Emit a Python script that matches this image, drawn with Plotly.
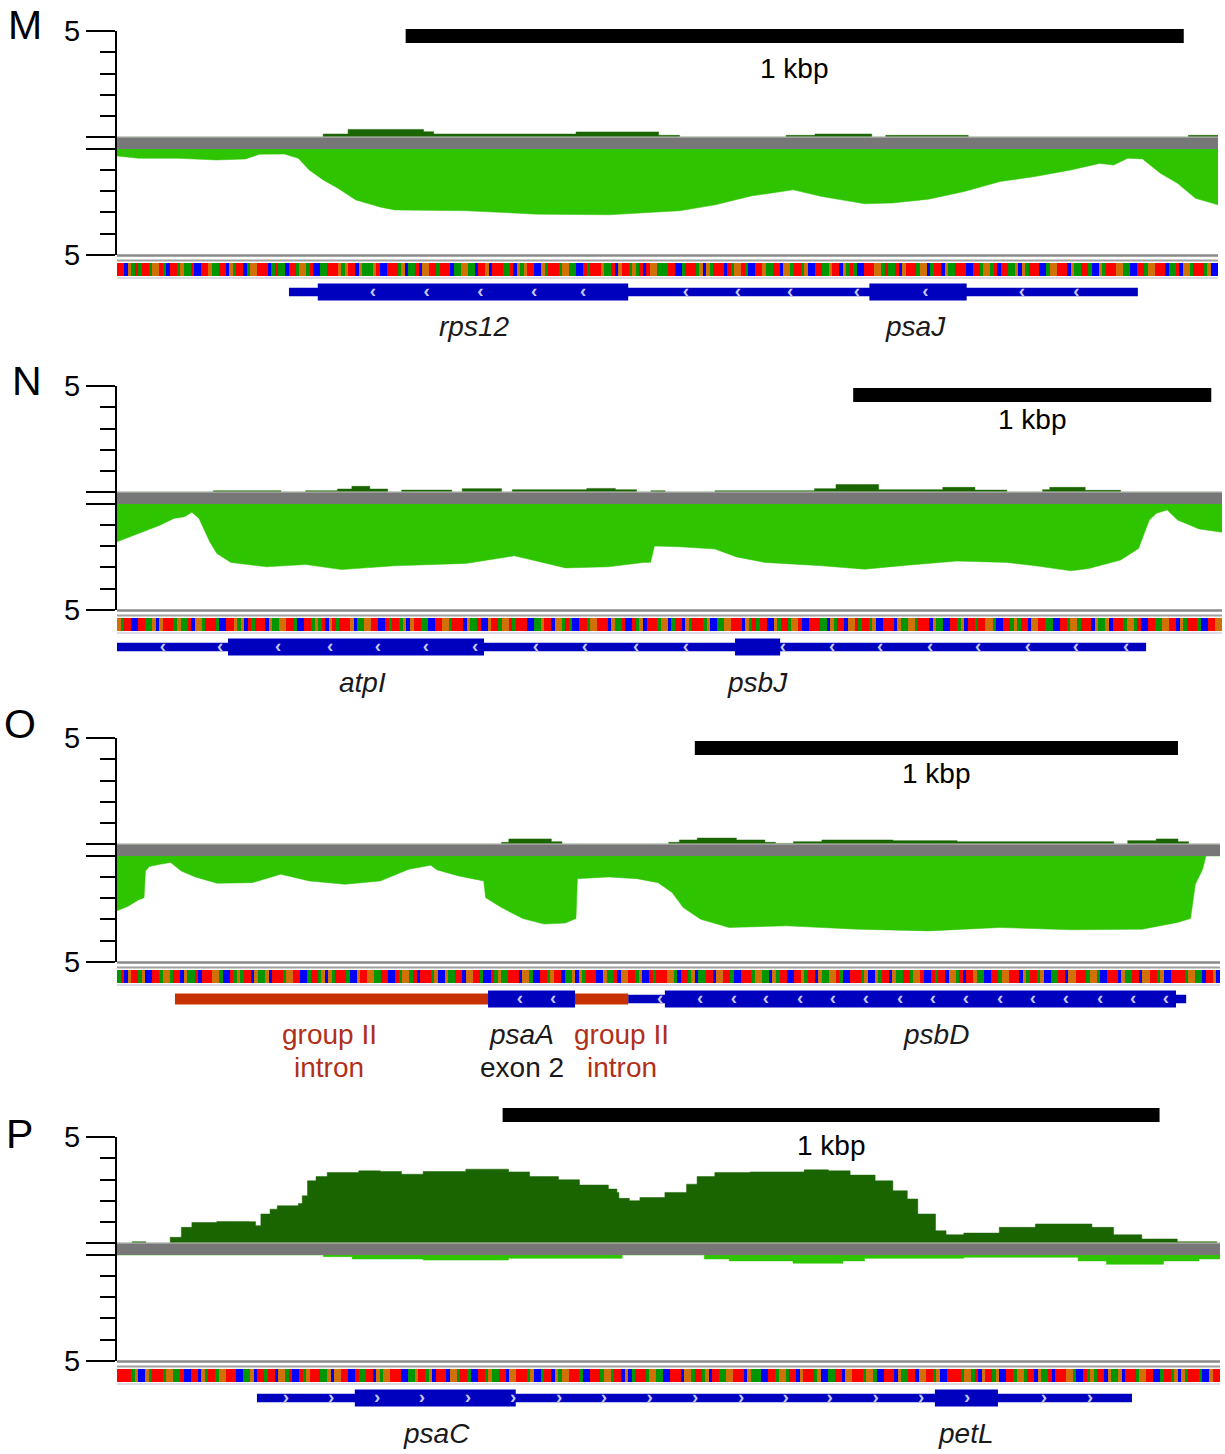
import plotly.graph_objects as go

W, H = 1225, 1454
FONT = "Liberation Sans, Arial, sans-serif"

# ---------------- data ----------------
panel_letters = ["M", "N", "O", "P"]
panel_len_bp = [1415, 3086, 2283, 1679]

# forward-strand coverage (dark green, step profile)
M_fwd_x = [0, 265, 297, 394, 407, 590, 696, 723, 860, 897, 970, 988, 1094, 1377, 1415]
M_fwd_y = [0, 0.14, 0.36, 0.25, 0.14, 0.24, 0.08, 0, 0.08, 0.14, 0, 0.08, 0, 0.08, 0.08]
# reverse-strand coverage (light green)
M_rev_x = [0, 28, 78, 128, 165, 183, 215, 233, 247, 265, 284, 307, 339, 357, 449, 540, 632, 723,
           769, 815, 869, 906, 961, 997, 1043, 1089, 1135, 1180, 1226, 1263, 1281, 1299, 1318, 1341,
           1363, 1386, 1415]
M_rev_y = [0.33, 0.44, 0.44, 0.52, 0.47, 0.25, 0.24, 0.44, 0.99, 1.46, 1.86, 2.41, 2.75, 2.88, 2.92,
           3.08, 3.11, 2.92, 2.64, 2.22, 1.93, 2.25, 2.59, 2.55, 2.37, 2.01, 1.54, 1.30, 0.99, 0.68,
           0.76, 0.44, 0.47, 1.15, 1.62, 2.33, 2.64]

N_fwd_x = [0, 269, 458, 527, 616, 656, 706, 756, 795, 935, 964, 1074, 1104, 1312, 1392, 1451, 1491,
           1531, 1670, 1948, 2008, 2127, 2306, 2396, 2485, 2585, 2605, 2704, 2803, 3086]
N_fwd_y = [0, 0.06, 0, 0.06, 0.14, 0.27, 0.14, 0, 0.09, 0, 0.16, 0, 0.11, 0.17, 0.11, 0, 0.06, 0,
           0.06, 0.16, 0.35, 0.11, 0.22, 0.09, 0, 0.11, 0.22, 0.08, 0, 0]
N_rev_x = [0, 60, 120, 159, 189, 209, 229, 259, 279, 318, 418, 527, 627, 776, 974, 1110, 1173, 1253,
           1372, 1471, 1490, 1501, 1571, 1670, 1730, 1809, 1968, 2088, 2207, 2346, 2485, 2565, 2664,
           2714, 2803, 2853, 2883, 2903, 2933, 2962, 3022, 3086]
N_rev_y = [1.79, 1.39, 1.00, 0.68, 0.60, 0.39, 0.68, 1.79, 2.34, 2.76, 2.97, 2.86, 3.10, 2.92, 2.81,
           2.45, 2.70, 3.02, 2.97, 2.76, 2.76, 1.99, 2.02, 2.13, 2.50, 2.76, 2.92, 3.08, 2.89, 2.70,
           2.76, 2.92, 3.16, 3.05, 2.65, 2.10, 0.76, 0.44, 0.28, 0.76, 1.18, 1.34]

O_fwd_x = [0, 796, 811, 899, 921, 1142, 1164, 1201, 1282, 1341, 1363, 1400, 1459, 1606, 1739, 2063,
           2092, 2151, 2196, 2218, 2283]
O_fwd_y = [0, 0.08, 0.24, 0.11, 0, 0.08, 0.19, 0.28, 0.19, 0.08, 0.03, 0.11, 0.19, 0.16, 0.11, 0,
           0.16, 0.24, 0.11, 0, 0]
O_rev_x = [0, 22, 44, 56, 59, 67, 89, 111, 133, 162, 207, 280, 339, 398, 472, 545, 604, 649, 663,
           707, 759, 763, 796, 840, 884, 928, 950, 953, 1017, 1076, 1120, 1149, 1172, 1208, 1267,
           1385, 1532, 1680, 1827, 1975, 2122, 2195, 2222, 2232, 2247, 2254, 2283]
O_rev_y = [2.59, 2.39, 2.08, 1.97, 0.71, 0.50, 0.39, 0.31, 0.71, 0.99, 1.29, 1.26, 0.86, 1.18, 1.34,
           1.18, 0.63, 0.44, 0.66, 0.94, 1.18, 1.97, 2.44, 2.96, 3.22, 3.17, 2.96, 1.07, 0.99, 1.07,
           1.26, 1.73, 2.44, 2.99, 3.38, 3.30, 3.46, 3.54, 3.38, 3.49, 3.46, 3.14, 2.96, 1.34, 0.63,
           0, 0]

P_fwd_x = [0, 22, 23, 43, 44, 76, 81, 98, 114, 152, 201, 211, 219, 233, 244, 276, 282, 290, 303,
           320, 368, 401, 433, 466, 531, 596, 628, 672, 704, 748, 761, 764, 780, 796, 834, 867,
           883, 910, 964, 1046, 1083, 1116, 1154, 1181, 1203, 1219, 1246, 1262, 1289, 1343, 1398,
           1441, 1484, 1517, 1560, 1614, 1674, 1679]
P_fwd_y = [0, 0, 0.06, 0.06, 0, 0, 0.27, 0.74, 0.97, 1.02, 1.01, 0.82, 1.37, 1.60, 1.76, 1.87, 2.23,
           2.94, 3.14, 3.33, 3.41, 3.38, 3.25, 3.38, 3.49, 3.36, 3.14, 2.99, 2.74, 2.55, 2.39, 2.11,
           2.00, 2.15, 2.39, 2.78, 3.14, 3.33, 3.36, 3.46, 3.41, 3.21, 2.94, 2.47, 2.08, 1.37, 0.58,
           0.39, 0.47, 0.74, 0.90, 0.90, 0.74, 0.39, 0.19, 0.06, 0, 0]
P_rev_x = [0, 314, 358, 466, 596, 769, 894, 932, 1029, 1105, 1138, 1289, 1463, 1506, 1593, 1647, 1679]
P_rev_y = [0, 0.08, 0.19, 0.24, 0.16, 0, 0.19, 0.28, 0.39, 0.28, 0.16, 0.11, 0.28, 0.44, 0.28,
           0.19, 0.19]

fwd_x = [M_fwd_x, N_fwd_x, O_fwd_x, P_fwd_x]
fwd_y = [M_fwd_y, N_fwd_y, O_fwd_y, P_fwd_y]
rev_x = [M_rev_x, N_rev_x, O_rev_x, P_rev_x]
rev_y = [M_rev_y, N_rev_y, O_rev_y, P_rev_y]

# reference sequence shown as a colour strip
seq_M = ("TTCGATATTAGGTACTTAGAATCCTTGAATTCGATTCAGGTTTCATAACTTAGGATCCAATTTGAGTTCGAAAGTCCTTTAGCAATCGG"
         "TTATTTCAAGGAACTTGCTTTAATCGAGTTCCGATTTAGGAACCTATTTGAATCGTTAGATCTGGAAATTCCATTTAGCGATTTCTAG"
         "GTACCTTGAATTCGGATTAGCCTTAAGTTCGATACCTTTGGATAATCGTTTAGGCATTCGAATTTCCTTAGGATCTTAAGCGATTTCC"
         "AGGTTTCGAATTACCGATTTGGAACCTTAGGTTTCAATCGGATTTAGCC")
seq_N = ("GATTCCTTAAGCGTTTAGAATCGGATTTACCTTGAGCTATTTCGAAGGTTACCTTAGATCGTATTTGCAAGGTTCCTATTAGCGTTAAC"
         "CTTGGATTTCGAATCCGTTAGGTATTTCCAAGTTCGGATACCTTAGGTTTCGAATCCTAGCTTTAGGCATTCGATTTAGCCAAGGTTTC"
         "GATATTCCGATTAGGTCCTTTAACGATTCGGTATTAGCCTTTCGAAGGATTTCGAACCTTAGCTTATTGGACCTTAGATTCGGTTAAC"
         "CTTAGGATTTCGAAGCTTTAGGATCCTTAAGGTTCGATTTACCTTGG")
seq_O = ("ATCGTTAGCCTTAGGATTCGAATCTTTGGACCTAGATTCGAAGCTTTAGGTTCCATTAGCGATTTACCGTTGGAATTCCTAGGATCTTT"
         "AGCCGAATTCGGTTACCTAGAATTTCGGACCTTAGTTCAAGCGATTTCCGAATCGGTTAGCCTATTTGGACTTAGCAATTCGGTTACCT"
         "TTAGGAACGATTCCTTGATTCGAAGGTACCTTTAGCCGATTCGAATTAGGTCCTATTCGGATCTTGAACCTTAGGTTTCGATTAGCCA"
         "ATTCGGTTTAGGACCTTTCGAATTCGGTTAGCCTTTTAGGAACTTGC")
seq_P = ("TTTTAGCCGATTTAGGAATCCTTCGATTAGGTTTCCAAGCTTATTCGGATCCTAGTTTAAGCGGTTCCTAATTCGAGGTTTCCAAGTTAG"
         "CTTTCGGATTACCTTAGAATTCGGTTTAGCCATTCGAGGTTTACCTTTAGGATTCGCATTTAGGAACCTTTCGGATTAGCTTAAGGTTTC"
         "GAAACCTTAGGATTCGTTTAGCCAATTCGGTTTAGGACCTTTCGAATTCGGTTAGCCTTTTAGGATCGTTAGCCTTAGGATTCGAATC"
         "TTTGGACCTAGATTCGAAGCTTTAGGTTCCATTAGCGATTTACCGTT")
sequences = [seq_M, seq_N, seq_O, seq_P]

# gene models (bp)
gene_thin = [[(221, 1312)], [(0, 2874)], [(1058, 2213)], [(213, 1545)]]
gene_thick = [[(258, 657), (967, 1092)], [(310, 1025), (1726, 1852)],
              [(768, 948), (1134, 2192)], [(362, 607), (1245, 1341)]]
intron_segments = [[], [], [(120, 768), (948, 1058)], []]
arrow_pos = [
    [329, 398, 467, 536, 599, 731, 798, 865, 951, 1039, 1163, 1233],
    [128, 288, 450, 595, 729, 863, 1000, 1170, 1307, 1450, 1589, 1860, 1997, 2131, 2271, 2405,
     2544, 2678, 2818],
    [834, 903, 1124, 1207, 1277, 1343, 1414, 1482, 1550, 1621, 1689, 1757, 1828, 1896, 1964,
     2035, 2103, 2171],
    [257, 326, 396, 464, 534, 603, 673, 741, 811, 880, 950, 1018, 1085, 1155, 1224, 1294, 1411,
     1481],
]
arrow_char = ["\u2039", "\u2039", "\u2039", "\u203a"]
# labels: (text, bp position, line, kind)
gene_labels = [
    [("rps12", 459, 0, "gene"), ("psaJ", 1026, 0, "gene")],
    [("atpI", 687, 0, "gene"), ("psbJ", 1788, 0, "gene")],
    [("group II", 439, 0, "intron"), ("intron", 439, 1, "intron"),
     ("psaA", 838, 0, "gene"), ("exon 2", 838, 1, "plain"),
     ("group II", 1045, 0, "intron"), ("intron", 1045, 1, "intron"),
     ("psbD", 1695, 0, "gene")],
    [("psaC", 487, 0, "gene"), ("petL", 1292, 0, "gene")],
]
scalebar_start_bp = [371, 2056, 1196, 587]
scalebar_len_bp = 1000
scalebar_text = "1 kbp"
axis_max = 5
axis_tick_labels = ["5", "", "", "5"]

# ---------------- layout geometry (px) ----------------
UNIT = 21.2                  # px per coverage unit
GAP = 12 / UNIT              # grey strand separator in coverage units
plot_left = 117
plot_right = [1218, 1222, 1220, 1220]
cov_top = [31, 386, 738, 1137]
scalebar_y = [36, 395, 748, 1115]
scaletext_y = [69, 420, 773, 1145]
letter_pos = [(6, 25), (10, 381), (2, 724), (4, 1134)]

DARK = "#1b6500"
LIGHT = "#2ec400"
GREY = "#777777"
BLUE = "#0000bf"
RED = "#c83200"
REDTXT = "#b0301a"
base_colors = {"A": "#009600", "C": "#0000ff", "G": "#d17105", "T": "#ff0000"}
base_code = {"A": 0, "C": 1, "G": 2, "T": 3}


def py(px):
    return 1 - px / H


fig = go.Figure()
layout = dict(width=W, height=H, autosize=False,
              margin=dict(l=0, r=0, t=0, b=0, pad=0, autoexpand=False),
              paper_bgcolor="white", plot_bgcolor="rgba(0,0,0,0)", showlegend=False,
              font=dict(family=FONT, color="black"))
shapes, annots = [], []

for i in range(4):
    L = panel_len_bp[i]
    xk = "" if i == 0 else str(i + 1)
    xname = "x" + xk
    yc = str(i + 1) if i > 0 else ""
    ys = str(i + 5)
    yg = str(i + 9)
    top = cov_top[i]
    bottom = top + (2 * axis_max + GAP) * UNIT

    layout["xaxis" + xk] = dict(domain=[plot_left / W, plot_right[i] / W], range=[0, L],
                                visible=False, anchor="y" + yc, fixedrange=True, automargin=False)
    layout["yaxis" + yc] = dict(
        domain=[py(bottom), py(top)], range=[-GAP - axis_max - 0.01, axis_max + 0.01],
        anchor=xname, showline=True, linewidth=2, linecolor="black", showgrid=False,
        zeroline=False, ticks="outside", ticklen=29, tickwidth=2, tickcolor="black",
        tickmode="array", tickvals=[axis_max, 0, -GAP, -GAP - axis_max], ticktext=axis_tick_labels,
        tickfont=dict(size=29, family=FONT), fixedrange=True, automargin=False, ticklabelstandoff=0,
        minor=dict(tickmode="array",
                   tickvals=[1, 2, 3, 4] + [-GAP - k for k in (1, 2, 3, 4)],
                   ticks="outside", ticklen=15, tickwidth=2, tickcolor="black", showgrid=False))
    layout["yaxis" + ys] = dict(domain=[py(bottom + 21), py(bottom + 8)], range=[-0.5, 0.5],
                                visible=False, anchor=xname, fixedrange=True, automargin=False)
    layout["yaxis" + yg] = dict(domain=[py(bottom + 37 + 20), py(bottom + 37 - 20)],
                                range=[-20, 20], visible=False, anchor=xname, fixedrange=True,
                                automargin=False)

    # forward coverage
    fig.add_trace(go.Scatter(x=fwd_x[i], y=fwd_y[i], mode="lines", line=dict(width=0.5, color=DARK, shape="hv"),
                             fill="tozeroy", fillcolor=DARK, xaxis=xname, yaxis="y" + yc, hoverinfo="skip"))
    # reverse coverage (plotted below the strand separator)
    fig.add_trace(go.Scatter(x=[0, L], y=[-GAP, -GAP], mode="lines", line=dict(width=0),
                             xaxis=xname, yaxis="y" + yc, hoverinfo="skip"))
    shape_rev = "hv" if i == 3 else "linear"
    fig.add_trace(go.Scatter(x=rev_x[i], y=[-GAP - v for v in rev_y[i]], mode="lines",
                             line=dict(width=0.5, color=LIGHT, shape=shape_rev),
                             fill="tonexty", fillcolor=LIGHT, xaxis=xname, yaxis="y" + yc, hoverinfo="skip"))
    # grey strand separator band
    shapes.append(dict(type="rect", xref=xname, yref="y" + yc, x0=0, x1=L, y0=-GAP, y1=0,
                       fillcolor=GREY, line=dict(width=0), layer="above"))
    shapes.append(dict(type="line", xref=xname, yref="y" + yc, x0=0, x1=L, y0=0, y1=0,
                       line=dict(color="#c8c8c8", width=1), layer="above"))

    # sequence strip
    seq = sequences[i]
    dx = L / len(seq)
    fig.add_trace(go.Heatmap(z=[[base_code[c] for c in seq]], x0=dx / 2, dx=dx, y=[0],
                             zmin=0, zmax=3, showscale=False, hoverinfo="skip",
                             colorscale=[[0, base_colors["A"]], [1 / 6, base_colors["A"]],
                                         [1 / 6, base_colors["C"]], [0.5, base_colors["C"]],
                                         [0.5, base_colors["G"]], [5 / 6, base_colors["G"]],
                                         [5 / 6, base_colors["T"]], [1, base_colors["T"]]],
                             xaxis=xname, yaxis="y" + ys))
    for off, col, wd in [(0.5, "#8a8a8a", 2.5), (5.5, "#a0a0a0", 2), (23, "#dcdce8", 2)]:
        shapes.append(dict(type="line", xref=xname, yref="paper", x0=0, x1=L,
                           y0=py(bottom + off), y1=py(bottom + off), line=dict(color=col, width=wd)))

    # gene model (drawn below the direction chevrons)
    for a, b in gene_thin[i]:
        shapes.append(dict(type="rect", xref=xname, yref="y" + yg, x0=a, x1=b, y0=-4.2, y1=4.2,
                           fillcolor=BLUE, line=dict(width=0), layer="below"))
    for a, b in intron_segments[i]:
        shapes.append(dict(type="rect", xref=xname, yref="y" + yg, x0=a, x1=b, y0=-5.6, y1=5.6,
                           fillcolor=RED, line=dict(width=0), layer="below"))
    for a, b in gene_thick[i]:
        shapes.append(dict(type="rect", xref=xname, yref="y" + yg, x0=a, x1=b, y0=-8.4, y1=8.4,
                           fillcolor=BLUE, line=dict(width=0), layer="below"))
    fig.add_trace(go.Scatter(x=arrow_pos[i], y=[0] * len(arrow_pos[i]), mode="text",
                             text=[arrow_char[i]] * len(arrow_pos[i]),
                             textfont=dict(size=19, color="#c8c8ff", family=FONT, weight="bold"),
                             textposition="middle center", xaxis=xname, yaxis="y" + yg,
                             hoverinfo="skip", cliponaxis=False))

    # gene labels
    for txt, pos, line, kind in gene_labels[i]:
        color = REDTXT if kind == "intron" else "#1a1a1a"
        t = "<i>%s</i>" % txt if kind == "gene" else txt
        annots.append(dict(text=t, x=pos, xref=xname, y=py(bottom + 72 + 33 * line), yref="paper",
                           showarrow=False, xanchor="center", yanchor="middle",
                           font=dict(size=28, color=color, family=FONT)))

    # scale bar
    s0 = scalebar_start_bp[i]
    shapes.append(dict(type="rect", xref=xname, yref="paper", x0=s0, x1=s0 + scalebar_len_bp,
                       y0=py(scalebar_y[i] + 7), y1=py(scalebar_y[i] - 7),
                       fillcolor="black", line=dict(width=0)))
    annots.append(dict(text=scalebar_text, x=s0 + scalebar_len_bp / 2, xref=xname,
                       y=py(scaletext_y[i]), yref="paper", showarrow=False,
                       xanchor="center", yanchor="middle", font=dict(size=28, family=FONT)))

    # panel letter
    lx, ly = letter_pos[i]
    annots.append(dict(text=panel_letters[i], x=lx / W, y=py(ly), xref="paper", yref="paper",
                       showarrow=False, xanchor="left", yanchor="middle",
                       font=dict(size=41, family=FONT)))

layout["shapes"] = shapes
layout["annotations"] = annots
fig.update_layout(**layout)
fig.write_html("out.html")
